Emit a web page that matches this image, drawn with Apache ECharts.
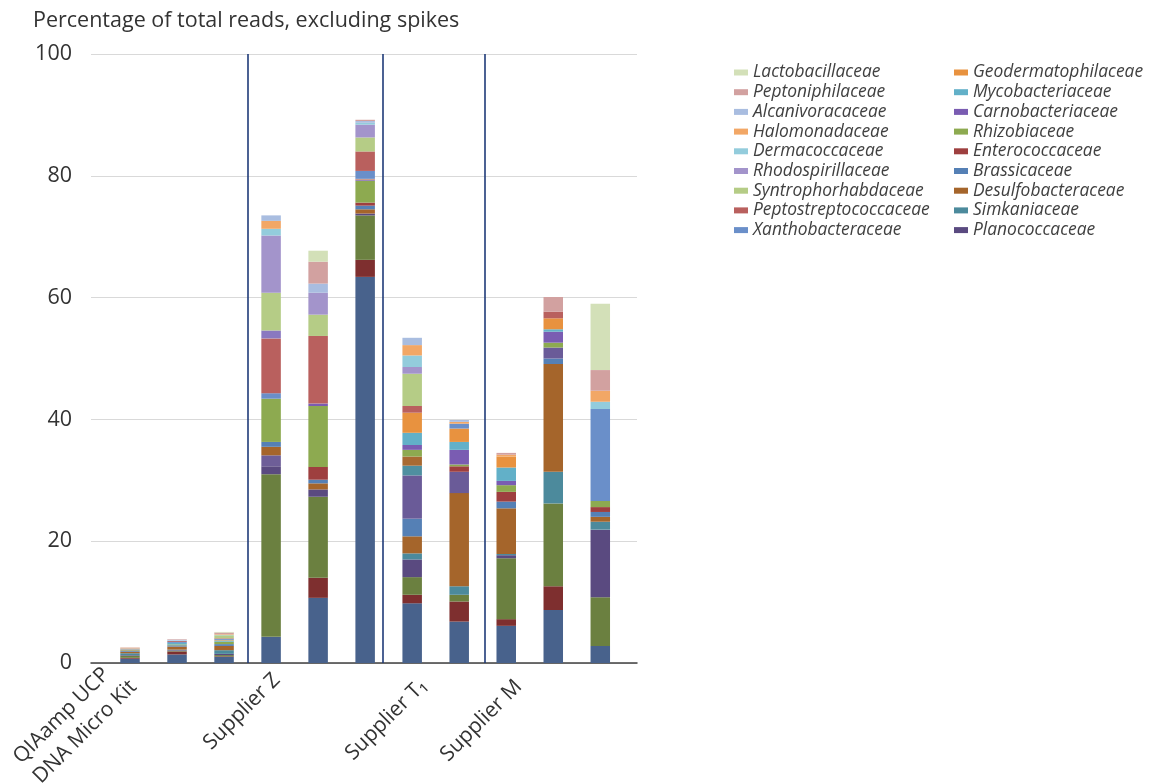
<!DOCTYPE html>
<html><head><meta charset="utf-8">
<script src="https://cdn.jsdelivr.net/npm/echarts@6/dist/echarts.min.js"></script>
<style>html,body{margin:0;padding:0;background:#fff}#c{width:1149px;height:783px}</style>
</head><body><div id="c"></div><script>
// ---- data ----
const categories = ['QIAamp-1','QIAamp-2','QIAamp-3','Z-1','Z-2','Z-3','T1-1','T1-2','M-1','M-2','M-3'];
const groupLabels = ['', 'QIAamp UCP\nDNA Micro Kit', '', 'Supplier Z', '', '', 'Supplier T\u2081', '', 'Supplier M', '', ''];
const yTicks = {min: 0, max: 100, interval: 20};
const separatorPositions = [2.5, 5.37, 7.55]; // in category units (between bars)

// series values, bottom of stack first
const unlistedA           = [0.7, 1.4, 1.0, 4.3, 10.7, 63.4, 9.8, 6.8, 6.1, 8.7, 2.8];
const unlistedB           = [0.15, 0.5, 0.1, 0, 3.3, 2.8, 1.4, 3.3, 1.1, 3.9, 0];
const unlistedC           = [0.35, 0.1, 0.2, 26.7, 13.3, 7.3, 2.9, 1.1, 10.0, 13.6, 8.0];
const planococcaceae      = [0.1, 0.1, 0.2, 1.3, 1.2, 0.3, 2.9, 0, 0.5, 0, 11.1];
const unlistedF           = [0, 0, 0, 1.8, 0, 0, 0, 0, 0, 0, 0];
const simkaniaceae        = [0.3, 0.1, 0.6, 0, 0, 0, 1.0, 1.4, 0.2, 5.2, 1.3];
const desulfobacteraceae  = [0.25, 0.5, 0.7, 1.4, 1.0, 0.7, 2.8, 15.3, 7.5, 17.7, 0.8];
const brassicaceae        = [0.15, 0.2, 0.3, 0.8, 0.6, 0.6, 2.9, 0, 1.1, 0.9, 0.8];
const unlistedD           = [0, 0, 0, 0, 0, 0, 7.1, 3.5, 0, 1.8, 0];
const unlistedG           = [0, 0, 0, 0, 0, 0, 1.6, 0, 0, 0, 0];
const unlistedH           = [0, 0, 0, 0, 0, 0, 1.5, 0, 0, 0, 0];
const enterococcaceae     = [0.05, 0, 0, 0, 2.1, 0.5, 0, 0.9, 1.6, 0, 0.8];
const rhizobiaceae        = [0.1, 0.15, 0.4, 7.1, 10.0, 3.6, 1.1, 0.3, 1.1, 0.8, 1.0];
const carnobacteriaceae   = [0, 0, 0, 0, 0.4, 0.2, 0.8, 2.4, 0.7, 1.8, 0];
const mycobacteriaceae    = [0.05, 0.25, 0.2, 0, 0, 0, 2.0, 1.3, 2.2, 0.4, 0];
const geodermatophilaceae = [0.05, 0, 0.1, 0, 0, 0.1, 3.3, 2.2, 1.8, 1.8, 0];
const xanthobacteraceae   = [0.05, 0.15, 0.15, 0.9, 0, 1.3, 0, 0.8, 0, 0, 15.1];
const peptostreptococcaceae = [0.05, 0.15, 0.1, 9.0, 11.1, 3.2, 1.1, 0, 0, 1.1, 0];
const unlistedE           = [0, 0, 0, 1.3, 0, 0, 0, 0, 0, 0, 0];
const syntrophorhabdaceae = [0, 0, 0.5, 6.2, 3.5, 2.3, 5.3, 0, 0, 0, 0];
const rhodospirillaceae   = [0, 0, 0, 9.4, 3.6, 2.1, 1.1, 0, 0, 0, 0];
const dermacoccaceae      = [0.05, 0.1, 0.1, 1.1, 0, 0.3, 1.9, 0, 0, 0, 1.2];
const halomonadaceae      = [0.1, 0, 0.1, 1.3, 0, 0, 1.7, 0.3, 0.3, 0, 1.8];
const alcanivoracaceae    = [0, 0.1, 0, 0.9, 1.5, 0.3, 1.2, 0.3, 0, 0, 0];
const peptoniphilaceae    = [0.05, 0.1, 0.25, 0, 3.6, 0.2, 0, 0, 0.3, 2.4, 3.4];
const lactobacillaceae    = [0, 0, 0.1, 0, 1.8, 0, 0, 0, 0, 0, 10.9];

const legendCol1 = ['Lactobacillaceae','Peptoniphilaceae','Alcanivoracaceae','Halomonadaceae','Dermacoccaceae','Rhodospirillaceae','Syntrophorhabdaceae','Peptostreptococcaceae','Xanthobacteraceae'];
const legendCol2 = ['Geodermatophilaceae','Mycobacteriaceae','Carnobacteriaceae','Rhizobiaceae','Enterococcaceae','Brassicaceae','Desulfobacteraceae','Simkaniaceae','Planococcaceae'];

// ---- series (stack order) ----
const stackSeries = [
  ['Other family A', unlistedA],
  ['Other family B', unlistedB],
  ['Other family C', unlistedC],
  ['Planococcaceae', planococcaceae],
  ['Other family F', unlistedF],
  ['Simkaniaceae', simkaniaceae],
  ['Desulfobacteraceae', desulfobacteraceae],
  ['Brassicaceae', brassicaceae],
  ['Other family D', unlistedD],
  ['Other family G', unlistedG],
  ['Other family H', unlistedH],
  ['Enterococcaceae', enterococcaceae],
  ['Rhizobiaceae', rhizobiaceae],
  ['Carnobacteriaceae', carnobacteriaceae],
  ['Mycobacteriaceae', mycobacteriaceae],
  ['Geodermatophilaceae', geodermatophilaceae],
  ['Xanthobacteraceae', xanthobacteraceae],
  ['Peptostreptococcaceae', peptostreptococcaceae],
  ['Other family E', unlistedE],
  ['Syntrophorhabdaceae', syntrophorhabdaceae],
  ['Rhodospirillaceae', rhodospirillaceae],
  ['Dermacoccaceae', dermacoccaceae],
  ['Halomonadaceae', halomonadaceae],
  ['Alcanivoracaceae', alcanivoracaceae],
  ['Peptoniphilaceae', peptoniphilaceae],
  ['Lactobacillaceae', lactobacillaceae]
];

// ---- styles ----
const colors = {
  'Other family A': '#48628C',
  'Other family B': '#7E2F2F',
  'Other family C': '#6B8040',
  'Planococcaceae': '#5A4A80',
  'Other family F': '#6E5E98',
  'Simkaniaceae': '#4C8A9C',
  'Desulfobacteraceae': '#A5652B',
  'Brassicaceae': '#5580B5',
  'Other family D': '#6A5B98',
  'Other family G': '#4F8FA0',
  'Other family H': '#A86A32',
  'Enterococcaceae': '#9E3F3F',
  'Rhizobiaceae': '#8DAA50',
  'Carnobacteriaceae': '#7A5CB2',
  'Mycobacteriaceae': '#62B0C8',
  'Geodermatophilaceae': '#E8923F',
  'Xanthobacteraceae': '#6A8FC9',
  'Peptostreptococcaceae': '#B9605E',
  'Other family E': '#8A78C0',
  'Syntrophorhabdaceae': '#B5CC86',
  'Rhodospirillaceae': '#A394CB',
  'Dermacoccaceae': '#93CCDC',
  'Halomonadaceae': '#F2A766',
  'Alcanivoracaceae': '#A9BDE0',
  'Peptoniphilaceae': '#D2A1A0',
  'Lactobacillaceae': '#D3E0B8'
};
// per-label nudges (padding, in the rotated text frame)
const labelPadding = {
  'QIAamp-2': [0, 40, 72, 0],
  'Z-1': [16, 0, 0, 0],
  'T1-1': [32, 0, 0, 0],
  'M-1': [35, 0, 0, 0]
};
const FONT = '"Open Sans", Lato, sans-serif';
const TXT = '#333333';

const chart = echarts.init(document.getElementById('c'), null, {renderer: 'canvas'});

const legendBase = {
  orient: 'vertical', top: 59, itemWidth: 14, itemHeight: 6, itemGap: 2.7, icon: 'rect',
  selectedMode: false,
  textStyle: {fontStyle: 'italic', fontSize: 17.4, color: '#404040', lineHeight: 17, fontFamily: FONT}
};

const series = stackSeries.map(([name, vals]) => ({
  name, type: 'bar', stack: 'total', xAxisIndex: 1, yAxisIndex: 1,
  barWidth: 19.5, data: vals, itemStyle: {color: colors[name]}, silent: true
}));
series.push({
  name: 'separators', type: 'line', xAxisIndex: 0, yAxisIndex: 0, data: [], silent: true,
  markLine: {
    silent: true, symbol: ['none', 'none'], label: {show: false},
    lineStyle: {color: '#1F3A78', width: 1.6, type: 'solid'},
    data: separatorPositions.map(x => ({xAxis: x}))
  }
});

const labelStyle = {fontSize: 21, color: TXT, fontFamily: FONT, lineHeight: 28, align: 'left'};

chart.setOption({
  animation: false,
  backgroundColor: '#fff',
  title: {text: 'Percentage of total reads, excluding spikes', left: 28, top: 5,
    textStyle: {fontSize: 21.5, fontWeight: 'normal', color: TXT, fontFamily: FONT}},
  legend: [
    Object.assign({}, legendBase, {left: 729, data: legendCol1}),
    Object.assign({}, legendBase, {left: 949, data: legendCol2})
  ],
  grid: [
    {left: 91, right: 512, top: 54, bottom: 120, containLabel: false, outerBoundsMode: 'none'},
    {left: 106.5, right: 525.2, top: 54, bottom: 120, containLabel: false, outerBoundsMode: 'none'}
  ],
  xAxis: [
    {type: 'value', gridIndex: 0, min: -0.829, max: 10.78,
      axisLine: {show: true, lineStyle: {color: '#404040', width: 1.5}},
      axisTick: {show: false}, axisLabel: {show: false}, splitLine: {show: false}},
    {type: 'category', gridIndex: 1,
      data: categories.map(c => labelPadding[c] ? {value: c, textStyle: {padding: labelPadding[c]}} : c),
      axisLine: {show: false}, axisTick: {show: false},
      axisLabel: {interval: 0, rotate: 45, margin: 8, fontSize: 21, color: TXT, fontFamily: FONT, lineHeight: 28,
        hideOverlap: false,
        formatter: (v, i) => groupLabels[i] ? groupLabels[i].split('\n').map(s => '{c|' + s + '}').join('\n') : '',
        rich: {c: labelStyle}}}
  ],
  yAxis: [
    {type: 'value', gridIndex: 0, min: yTicks.min, max: yTicks.max, interval: yTicks.interval,
      axisLine: {show: false}, axisTick: {show: false},
      axisLabel: {fontSize: 21.5, color: TXT, fontFamily: FONT, margin: 19},
      splitLine: {lineStyle: {color: '#D9D9D9', width: 1}}},
    {type: 'value', gridIndex: 1, min: yTicks.min, max: yTicks.max, interval: yTicks.interval, show: false,
      splitLine: {show: false}}
  ],
  series
});
</script></body></html>
